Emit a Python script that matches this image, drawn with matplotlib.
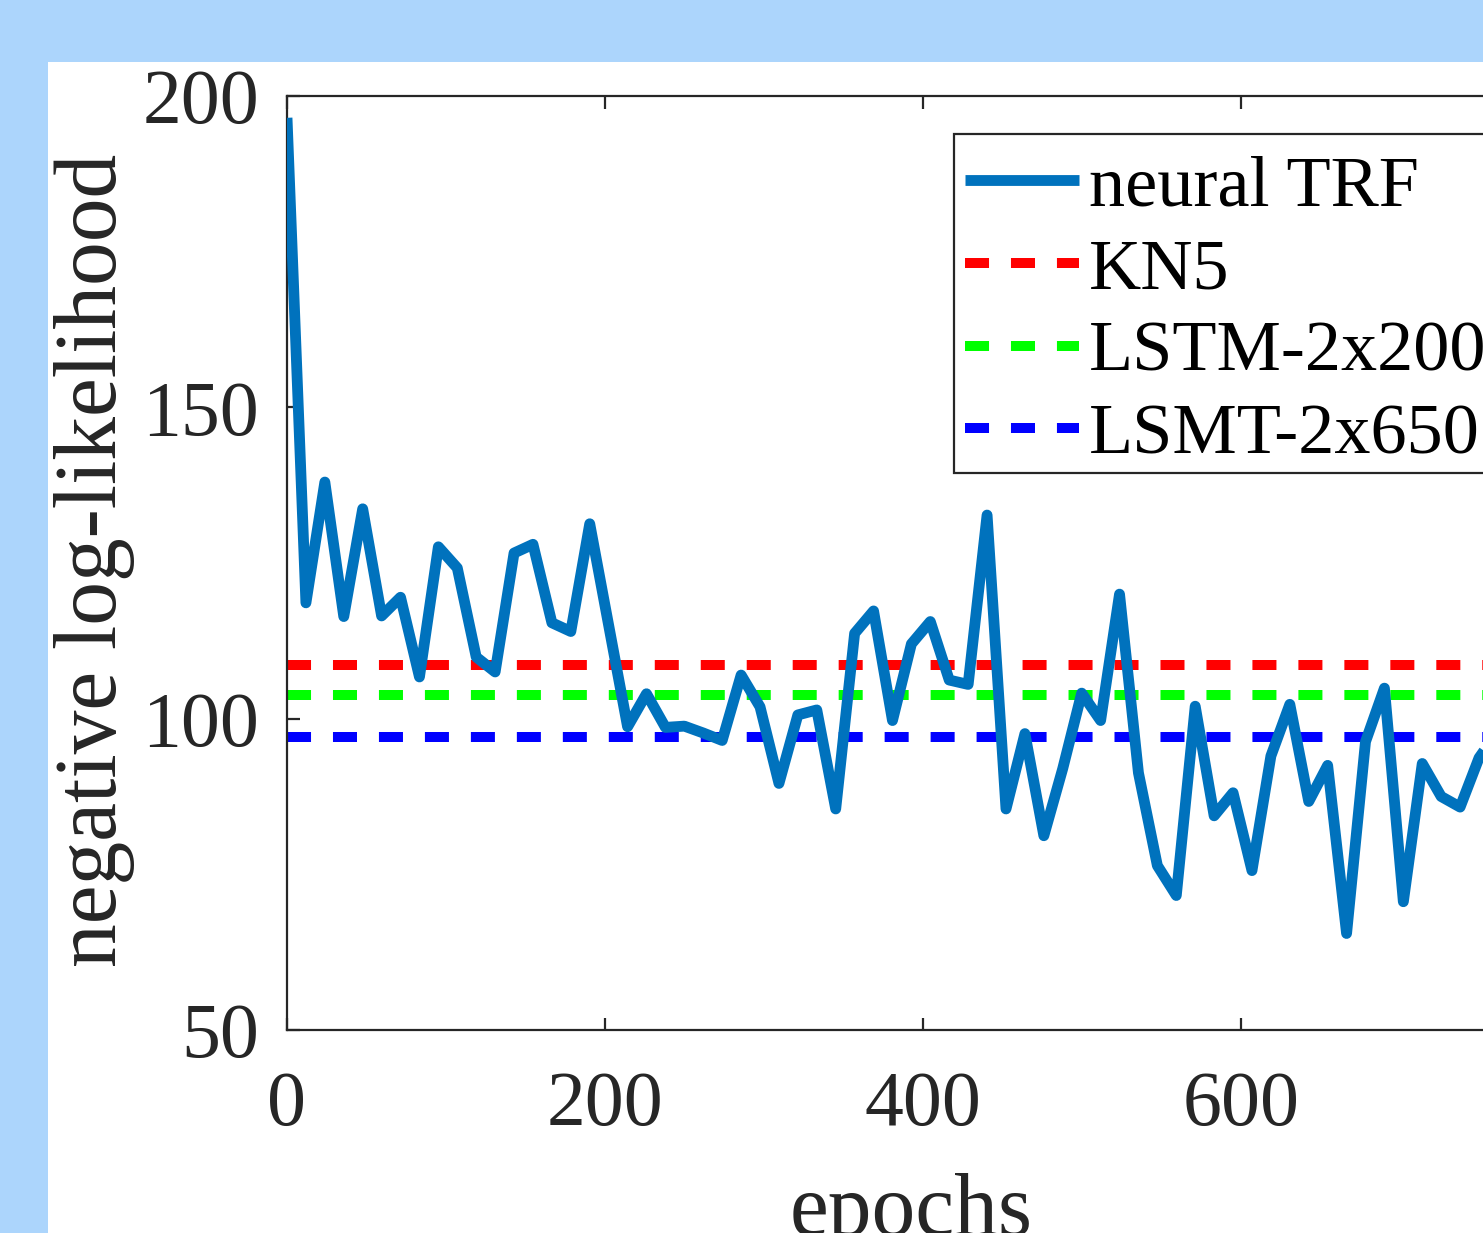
import matplotlib
matplotlib.use("Agg")
import matplotlib.pyplot as plt
from matplotlib.patches import Rectangle

plt.rcParams['font.family'] = ['Liberation Serif', 'DejaVu Serif']
plt.rcParams['lines.scale_dashes'] = False

# ---------------- data ----------------
epochs = [0, 11.9, 23.8, 35.7, 47.6, 59.5, 71.4, 83.3, 95.2, 107.1,
          119.0, 130.9, 142.8, 154.7, 166.6, 178.5, 190.4, 202.3, 214.2, 226.1,
          238.0, 249.9, 261.8, 273.7, 285.6, 297.5, 309.4, 321.3, 333.2, 345.1,
          357.0, 368.9, 380.8, 392.7, 404.6, 416.5, 428.4, 440.3, 452.2, 464.1,
          476.0, 487.9, 499.8, 511.7, 523.6, 535.5, 547.4, 559.3, 571.2, 583.1,
          595.0, 606.9, 618.8, 630.7, 642.6, 654.5, 666.4, 678.3, 690.2, 702.1,
          714.0, 725.9, 737.8, 749.7, 761.6]
neural_trf = [196.5, 118.6, 138.0, 116.4, 133.7, 116.5, 119.5, 106.7, 127.6, 124.2,
              109.9, 107.5, 126.6, 128.0, 115.4, 114.0, 131.3, 115.0, 98.7, 104.0,
              98.6, 98.8, 97.7, 96.5, 107.0, 101.9, 89.6, 100.6, 101.4, 85.5,
              113.7, 117.3, 99.7, 112.0, 115.6, 106.2, 105.5, 132.7, 85.5, 97.6,
              81.2, 92.0, 104.1, 99.7, 120.0, 91.3, 76.4, 71.6, 102.0, 84.4,
              88.1, 75.6, 94.0, 102.3, 86.7, 92.5, 65.5, 96.3, 104.9, 70.6,
              92.8, 87.5, 85.8, 93.7, 98.0]
baselines = {
    'KN5': 108.6,
    'LSTM-2x200': 103.8,
    'LSMT-2x650': 97.1,
}
baseline_colors = ['#ff0000', '#00ff00', '#0000ff']
series_labels = ['neural TRF', 'KN5', 'LSTM-2x200', 'LSMT-2x650']
xticks = [0, 200, 400, 600, 800]
yticks = [50, 100, 150, 200]

# ---------------- figure ----------------
W, H = 1483, 1233
fig = plt.figure(figsize=(W / 100, H / 100), dpi=100)
fig.patch.set_facecolor('#acd5fc')
fig.patches.append(Rectangle((48 / W, 0), 1 - 48 / W, (H - 62) / H,
                             transform=fig.transFigure, facecolor='white',
                             edgecolor='none', zorder=-10))

ax_left, ax_bottom, ax_w, ax_h = 287, 203, 1272, 934
ax = fig.add_axes([ax_left / W, ax_bottom / H, ax_w / W, ax_h / H])
ax.set_zorder(5)
ax.set_xlim(0, 800)
ax.set_ylim(50, 200)

dark = '#262626'
ax.plot(epochs, neural_trf, color='#0072BD', lw=7.8, solid_joinstyle='round',
        solid_capstyle='butt', label=series_labels[0], zorder=3)
for (name, val), col in zip(baselines.items(), baseline_colors):
    ax.plot([0, 800], [val, val], color=col, lw=7.2,
            linestyle=(0, (17.3, 15.8)), dash_capstyle='butt', label=name, zorder=2)

for s in ax.spines.values():
    s.set_color(dark)
    s.set_linewidth(1.6)
ax.set_xticks(xticks)
ax.set_yticks(yticks)
ax.tick_params(direction='in', length=9, width=1.6, color=dark,
               labelcolor=dark, labelsize=56, top=True, right=True)
ax.tick_params(axis='y', pad=20)
ax.tick_params(axis='x', pad=29)

ax.set_xlabel('epochs', fontsize=63, color=dark)
ax.set_ylabel('negative log-likelihood', fontsize=63, color=dark)
ax.xaxis.set_label_coords(0.4906, -0.153)
ax.yaxis.set_label_coords(-0.1195, 0.503)

# legend box (frame drawn separately to match the reference's tight box)
box_left = (954 - 287) / ax_w
box_top = (1030 - 134) / ax_h
box_bottom = (1030 - 473) / ax_h
ax.add_patch(Rectangle((box_left, box_bottom), 0.6, box_top - box_bottom,
                       transform=ax.transAxes, facecolor='white', edgecolor=dark,
                       linewidth=1.6, clip_on=False, zorder=4.5))
leg = ax.legend(loc='upper left', bbox_to_anchor=((944 - 287) / ax_w, box_top),
                borderaxespad=0, fontsize=52, handlelength=1.58, handletextpad=0.14,
                labelspacing=0.237, borderpad=0.29, frameon=False)
leg.set_zorder(6)

fig.savefig('out.png', dpi=100, facecolor=fig.get_facecolor())
